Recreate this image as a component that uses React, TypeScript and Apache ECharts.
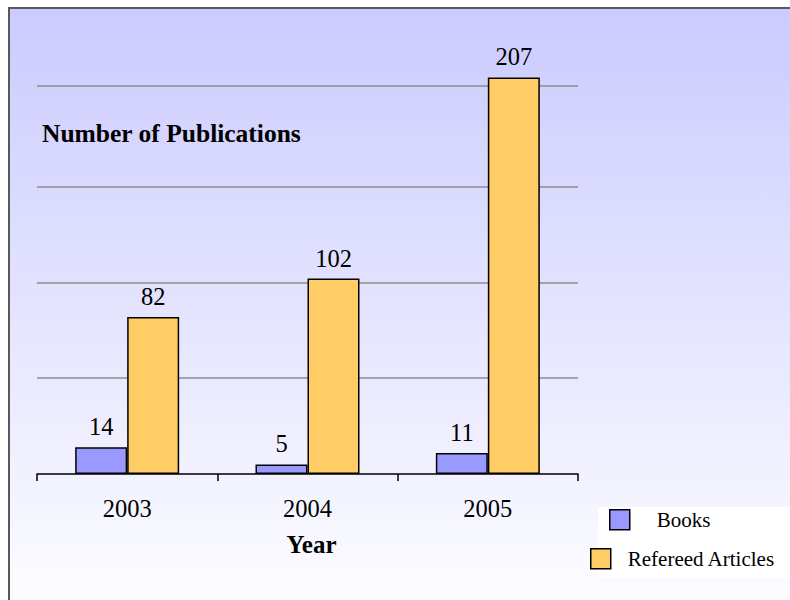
import React, { useEffect, useRef } from "react";
import * as echarts from "echarts";

const categories = ["2003", "2004", "2005"];
const books = [14, 5, 11];
const articles = [82, 102, 207];
const gridValues = [50, 100, 150, 202.5];
const seriesNames = ["Books", "Refereed Articles"];

const FONT = "'Liberation Serif', 'Times New Roman', serif";

export default function App() {
  const ref = useRef<HTMLDivElement>(null);
  useEffect(() => {
    if (!ref.current) return;
    const chart = echarts.init(ref.current, undefined, { renderer: "svg" });
    chart.setOption({
      animation: false,
      backgroundColor: new echarts.graphic.LinearGradient(0, 0, 0, 1, [
        { offset: 0, color: "#CBCBFF" },
        { offset: 1, color: "#FFFFFF" },
      ]),
      textStyle: { fontFamily: FONT },
      title: {
        text: "Number of Publications",
        left: 32,
        top: 111,
        padding: 0,
        textStyle: { fontFamily: FONT, fontSize: 25.5, fontWeight: "bold", color: "#000", lineHeight: 26 },
      },
      graphic: [
        { type: "rect", left: 588, top: 498, shape: { width: 230, height: 71 }, style: { fill: "#FFFFFF" }, z: 0 },
      ],
      legend: [
        {
          data: [seriesNames[0]],
          left: 599,
          top: 500,
          padding: 0,
          icon: "rect",
          itemWidth: 20,
          itemHeight: 20,
          itemStyle: { borderColor: "#000", borderWidth: 1.5 },
          textStyle: { fontFamily: FONT, fontSize: 21, color: "#000", padding: [0, 0, 0, 22] },
          z: 5,
        },
        {
          data: [seriesNames[1]],
          left: 580,
          top: 539,
          padding: 0,
          icon: "rect",
          itemWidth: 20,
          itemHeight: 20,
          itemStyle: { borderColor: "#000", borderWidth: 1.5 },
          textStyle: { fontFamily: FONT, fontSize: 21, color: "#000", padding: [0, 0, 0, 12] },
          z: 5,
        },
      ],
      grid: { left: 27, top: 77, width: 541, height: 388, containLabel: false },
      xAxis: {
        type: "category",
        data: categories,
        name: "Year",
        nameLocation: "middle",
        nameGap: 58,
        nameTextStyle: { fontFamily: FONT, fontSize: 25, fontWeight: "bold", color: "#000", padding: [0, 0, 0, 8] },
        axisLine: { lineStyle: { color: "#000", width: 1.5 } },
        axisTick: { show: true, length: 7, inside: false, lineStyle: { color: "#000", width: 1.5 } },
        axisLabel: { fontFamily: FONT, fontSize: 24.5, color: "#000", margin: 22 },
      },
      yAxis: {
        type: "value",
        min: 0,
        max: 202.5,
        axisLine: { show: false },
        axisTick: { show: false },
        axisLabel: { show: false },
        splitLine: { show: false },
      },
      series: [
        {
          name: seriesNames[0],
          type: "bar",
          data: books,
          barWidth: 52,
          barGap: "0%",
          clip: false,
          itemStyle: { color: "#9999FF", borderColor: "#000", borderWidth: 1.5 },
          label: {
            show: true,
            position: "top",
            distance: 8,
            fontFamily: FONT,
            fontSize: 24.5,
            color: "#000",
          },
          markLine: {
            silent: true,
            symbol: "none",
            z: 1,
            label: { show: false },
            lineStyle: { color: "#8C8C8C", width: 1.5, type: "solid" },
            data: gridValues.map((v) => ({ yAxis: v })),
          },
        },
        {
          name: seriesNames[1],
          type: "bar",
          data: articles,
          barWidth: 52,
          barGap: "0%",
          clip: false,
          itemStyle: { color: "#FFCC66", borderColor: "#000", borderWidth: 1.5 },
          label: {
            show: true,
            position: "top",
            distance: 8,
            fontFamily: FONT,
            fontSize: 24.5,
            color: "#000",
          },
        },
      ],
    });
    return () => chart.dispose();
  }, []);

  return (
    <div
      style={{
        position: "absolute",
        left: 8,
        top: 7,
        width: 782,
        height: 593,
        borderLeft: "2px solid #595959",
        borderTop: "2px solid #595959",
        boxSizing: "border-box",
        overflow: "hidden",
      }}
    >
      <div ref={ref} style={{ width: 810, height: 620 }} />
    </div>
  );
}
